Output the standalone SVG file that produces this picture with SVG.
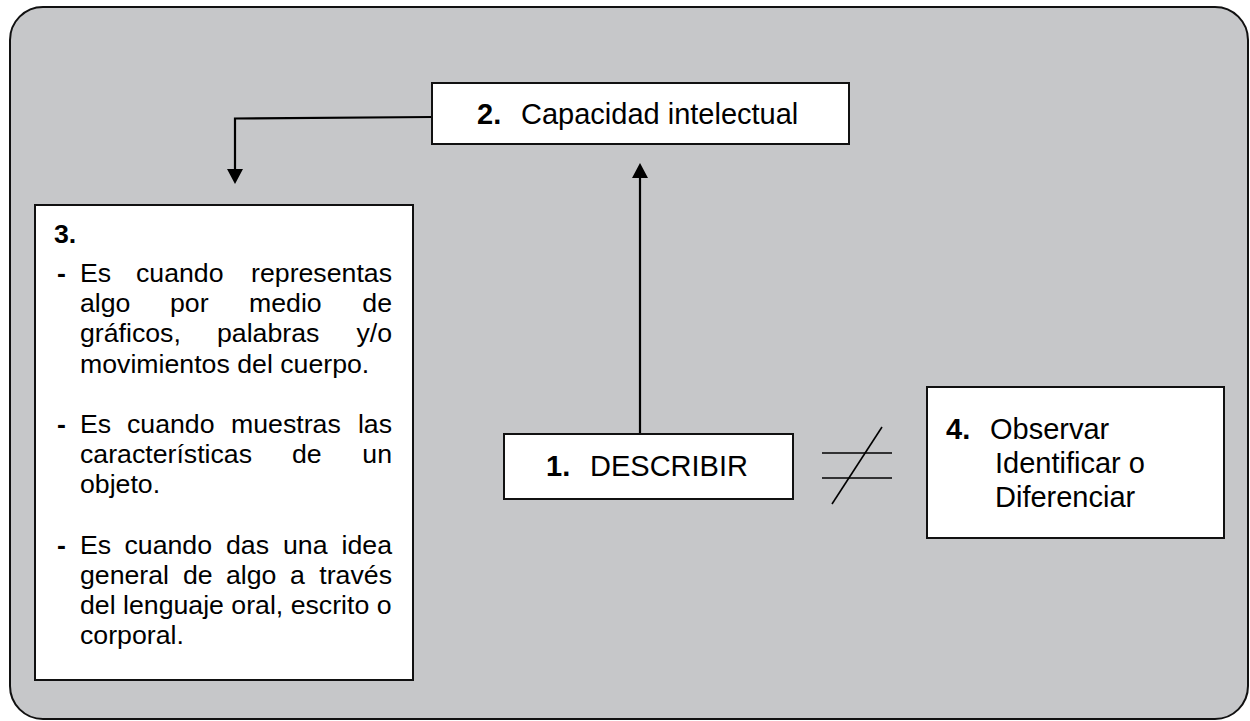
<svg xmlns="http://www.w3.org/2000/svg" width="1250" height="721" viewBox="0 0 1250 721">
<style>
.box{fill:#ffffff;stroke:#111;stroke-width:2}
.t{font-family:"Liberation Sans",Arial,sans-serif;fill:#000}
.big{font-size:29px}
.mid{font-size:26.7px}
.b{font-weight:bold}
.conn{fill:none;stroke:#000;stroke-width:2.2}
.neq{fill:none;stroke:#000;stroke-width:1.6}
</style>
<defs>
<marker id="arr" viewBox="0 0 15 16" markerUnits="userSpaceOnUse" markerWidth="15" markerHeight="16" refX="0" refY="8" orient="auto">
<path d="M0,0 L15,8 L0,16 z" fill="#000"/>
</marker>
</defs>
<rect x="10" y="7" width="1238" height="712" rx="33" ry="33" fill="#c6c7c9" stroke="#111" stroke-width="2"/>
<g id="connectors">
<path class="conn" d="M432,117 L235,118.5 L235,169" marker-end="url(#arr)"/>
<path class="conn" d="M640,434 L640,178" marker-end="url(#arr)"/>
<g id="not-equal">
<line class="neq" x1="822" y1="453" x2="892" y2="453"/>
<line class="neq" x1="822" y1="478" x2="892" y2="478"/>
<line class="neq" x1="882" y1="427" x2="832" y2="504"/>
</g>
</g>
<g id="node2">
<rect class="box" x="432" y="83" width="417" height="61"/>
<text class="t big" y="124"><tspan class="b" x="477">2.</tspan><tspan x="521">Capacidad intelectual</tspan></text>
</g>
<g id="node1">
<rect class="box" x="504" y="434" width="289" height="65"/>
<text class="t big" y="476"><tspan class="b" x="546">1.</tspan><tspan x="590">DESCRIBIR</tspan></text>
</g>
<g id="node4">
<rect class="box" x="927" y="387" width="297" height="151"/>
<text class="t big"><tspan class="b" x="946" y="439">4.</tspan><tspan x="990" y="439">Observar</tspan><tspan x="995" y="473">Identificar o</tspan><tspan x="995" y="507">Diferenciar</tspan></text>
</g>
<g id="node3">
<rect class="box" x="35" y="205" width="378" height="475"/>
<text class="t mid b" x="54" y="243">3.</text>
<g class="t mid">
<text class="b" x="57" y="282">-</text>
<text class="b" x="57" y="433">-</text>
<text class="b" x="57" y="553.5">-</text>
<text y="282"><tspan x="80">Es</tspan><tspan x="136">cuando</tspan><tspan x="392" text-anchor="end">representas</tspan></text>
<text y="312.2"><tspan x="80">algo</tspan><tspan x="170">por</tspan><tspan x="249">medio</tspan><tspan x="392" text-anchor="end">de</tspan></text>
<text y="342.3"><tspan x="80">gráficos,</tspan><tspan x="217">palabras</tspan><tspan x="392" text-anchor="end">y/o</tspan></text>
<text x="80" y="372.5">movimientos del cuerpo.</text>
<text y="433"><tspan x="80">Es</tspan><tspan x="127">cuando</tspan><tspan x="231">muestras</tspan><tspan x="392" text-anchor="end">las</tspan></text>
<text y="463"><tspan x="80">características</tspan><tspan x="292">de</tspan><tspan x="392" text-anchor="end">un</tspan></text>
<text x="80" y="493.2">objeto.</text>
<text y="553.5"><tspan x="80">Es</tspan><tspan x="124.5">cuando</tspan><tspan x="226">das</tspan><tspan x="283">una</tspan><tspan x="392" text-anchor="end">idea</tspan></text>
<text y="583.7"><tspan x="80">general</tspan><tspan x="183">de</tspan><tspan x="226">algo</tspan><tspan x="290">a</tspan><tspan x="392" text-anchor="end">través</tspan></text>
<text x="80" y="613.9">del lenguaje oral, escrito o</text>
<text x="80" y="644">corporal.</text>
</g>
</g>
</svg>
